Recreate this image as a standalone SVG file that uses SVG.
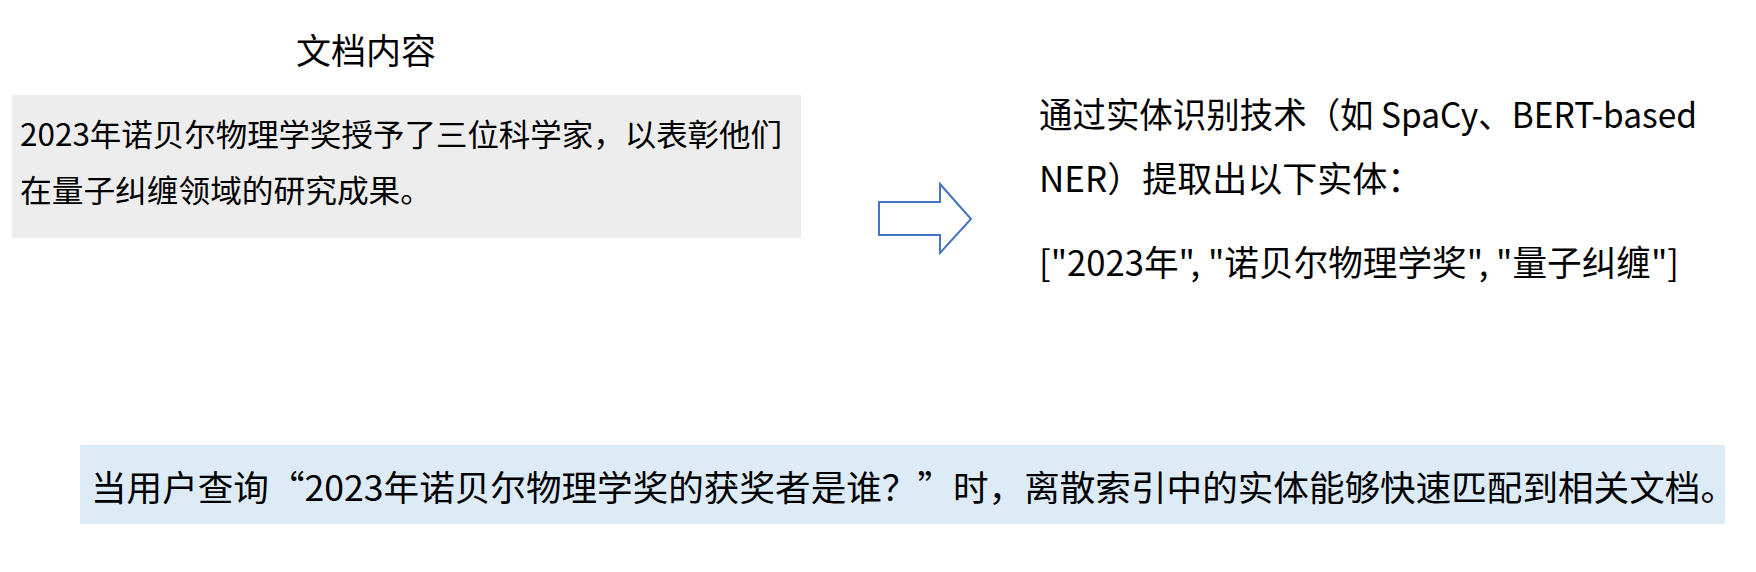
<svg xmlns="http://www.w3.org/2000/svg" width="1756" height="572" viewBox="0 0 1756 572">
<style>
.t{font-family:"Noto Sans CJK SC","Noto Sans",sans-serif;fill:#000}
.f31{font-size:31px}
.f35{font-size:35px}
.arrow{fill:#fff;stroke:#4472c4;stroke-width:2}
</style>
<rect width="1756" height="572" fill="#fff"/>
<g id="title">
<text class="t f35" x="296" y="64">文档内容</text>
</g>
<g id="doc">
<rect x="12" y="95" width="789" height="143" fill="#ededed"/>
<text class="t f31" x="20" y="146" textLength="762" lengthAdjust="spacingAndGlyphs">2023年诺贝尔物理学奖授予了三位科学家，以表彰他们</text>
<text class="t f31" x="20" y="202" textLength="412" lengthAdjust="spacingAndGlyphs">在量子纠缠领域的研究成果。</text>
</g>
<g id="connectors">
<polygon class="arrow" points="879,202 940,202 940,184 971,219 940,253 940,235 879,235"/>
</g>
<g id="entities">
<text class="t f35" x="1039" y="128" textLength="658" lengthAdjust="spacingAndGlyphs">通过实体识别技术（如 SpaCy、BERT-based</text>
<text class="t f35" x="1039" y="192">NER）提取出以下实体：</text>
<text class="t f35" x="1039" y="276" textLength="640" lengthAdjust="spacingAndGlyphs">["2023年", "诺贝尔物理学奖", "量子纠缠"]</text>
</g>
<g id="query">
<rect x="80" y="445" width="1645" height="79" fill="#ddebf7"/>
<text class="t f35" x="91" y="501" textLength="1645" lengthAdjust="spacingAndGlyphs">当用户查询“2023年诺贝尔物理学奖的获奖者是谁？”时，离散索引中的实体能够快速匹配到相关文档。</text>
</g>
</svg>
